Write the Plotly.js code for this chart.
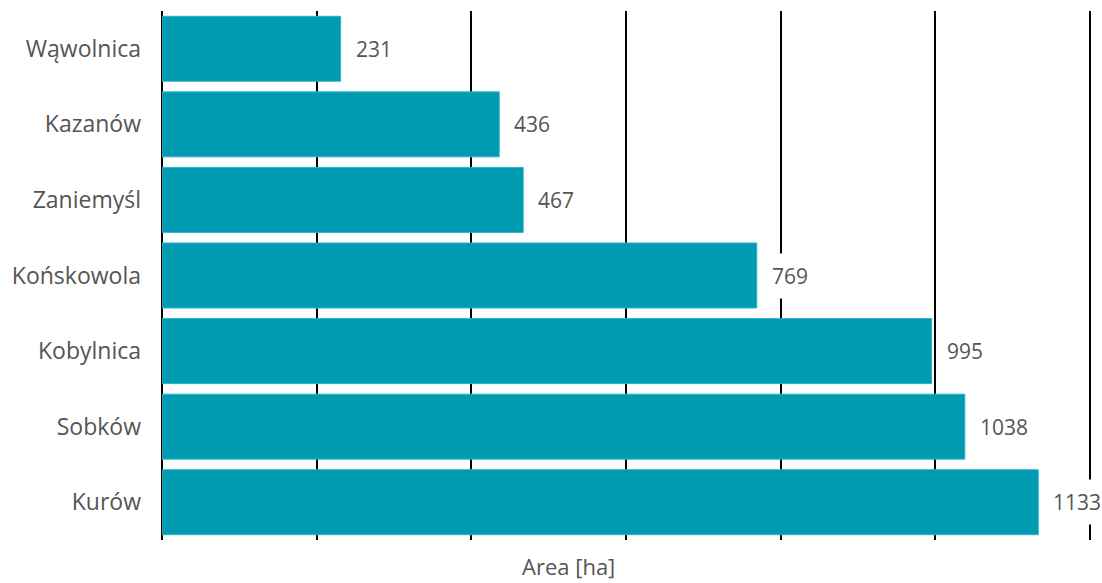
<!DOCTYPE html>
<html>
<head>
<meta charset="utf-8">
<script src="https://cdn.plot.ly/plotly-3.0.1.min.js"></script>
<style>html,body{margin:0;padding:0;background:#fff}#chart{width:1102px;height:583px}</style>
</head>
<body>
<div id="chart"></div>
<script>
const categories = ["Wąwolnica", "Kazanów", "Zaniemyśl", "Końskowola", "Kobylnica", "Sobków", "Kurów"];
const areaHa = [231, 436, 467, 769, 995, 1038, 1133];
const axisTitle = "Area [ha]";

const FONT = "'Open Sans', 'Noto Sans', sans-serif";
const TEXT = "#555555";

const trace = {
  type: "bar",
  orientation: "h",
  y: categories,
  x: areaHa,
  marker: {color: "#009ab1", line: {color: "#2fb3c6", width: 1}},
  width: 0.86,
  hoverinfo: "skip"
};

const annotations = categories.map((c, i) => ({
  x: areaHa[i], y: c, xref: "x", yref: "y",
  text: String(areaHa[i]), showarrow: false,
  xanchor: "left", yanchor: "middle", xshift: 6,
  bgcolor: "#ffffff", borderpad: 8,
  font: {family: FONT, size: 21, color: TEXT}
}));
annotations.push({
  x: 0.436, y: 0, xref: "paper", yref: "paper", yanchor: "top", yshift: -9,
  text: axisTitle, showarrow: false,
  font: {family: FONT, size: 22, color: TEXT}
});

const layout = {
  width: 1102, height: 583,
  margin: {l: 162, r: 8, t: 11, b: 43},
  paper_bgcolor: "#ffffff", plot_bgcolor: "#ffffff",
  showlegend: false,
  font: {family: FONT, size: 23, color: TEXT},
  xaxis: {
    range: [0, 1205], dtick: 200, tick0: 0,
    showgrid: true, gridcolor: "#000000", gridwidth: 2,
    zeroline: true, zerolinecolor: "#000000", zerolinewidth: 2,
    showticklabels: false, ticks: "", showline: false, fixedrange: true
  },
  yaxis: {
    autorange: "reversed", showgrid: false, zeroline: false,
    ticks: "", showline: false, ticklabelstandoff: 20,
    tickfont: {family: FONT, size: 23, color: TEXT}, fixedrange: true
  },
  annotations: annotations
};

Plotly.newPlot("chart", [trace], layout, {displayModeBar: false, staticPlot: true});
</script>
</body>
</html>
